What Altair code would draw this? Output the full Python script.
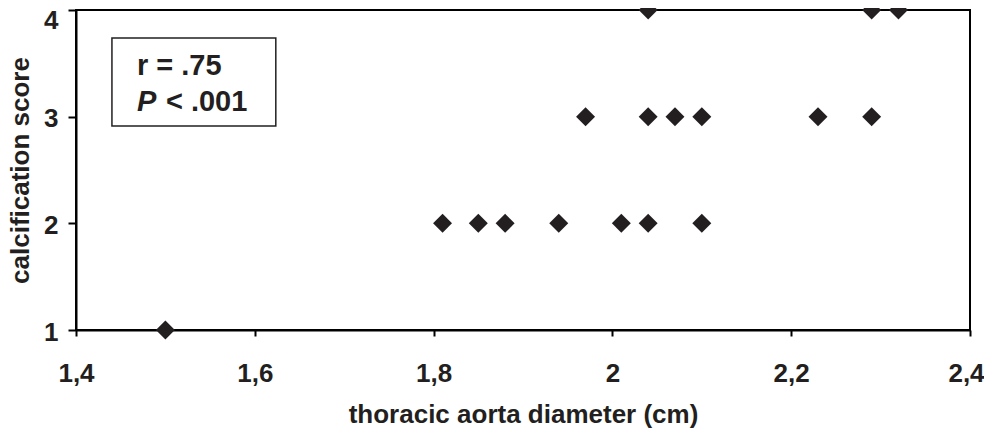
import altair as alt
import pandas as pd

# data
diameter = [1.50, 1.81, 1.85, 1.88, 1.94, 2.01, 2.04, 2.10,
            1.97, 2.04, 2.07, 2.10, 2.23, 2.29,
            2.04, 2.29, 2.32]
score = [1, 2, 2, 2, 2, 2, 2, 2,
         3, 3, 3, 3, 3, 3,
         4, 4, 4]
x_ticks = [1.4, 1.6, 1.8, 2.0, 2.2, 2.4]
y_ticks = [1, 2, 3, 4]

df = pd.DataFrame({"diameter": diameter, "score": score})

FONT = "Liberation Sans"
INK = "#231f20"

xs = alt.Scale(domain=[1.4, 2.4], nice=False, zero=False)
ys = alt.Scale(domain=[1, 4], nice=False, zero=False)

points = alt.Chart(df).mark_point(
    shape="diamond", filled=True, size=360, color=INK, opacity=1
).encode(
    x=alt.X("diameter:Q", scale=xs,
            axis=alt.Axis(values=x_ticks, title="thoracic aorta diameter (cm)",
                          labelExpr="replace(format(datum.value, '~g'), '.', ',')",
                          grid=False, tickSize=6, labelPadding=24,
                          labelOffset=alt.condition("datum.value >= 2.39", alt.value(-4), alt.value(0)),
                          labelFontSize=26, titleFontSize=26,
                          titleBaseline="alphabetic",
                          titleY=92, labelFlush=False)),
    y=alt.Y("score:Q", scale=ys,
            axis=alt.Axis(values=y_ticks, title="calcification score", format="d",
                          grid=False, tickSize=8, labelPadding=10,
                          labelOffset=alt.condition("datum.value == 4", alt.value(10), alt.value(2)),
                          labelFontSize=26, titleFontSize=26,
                          titleBaseline="alphabetic",
                          titleX=-48, labelFlush=False)),
)

# annotation box with statistics (positioned in data units)
box = pd.DataFrame({"x1": [1.4402], "x2": [1.6235], "y1": [3.7375], "y2": [2.9125]})
rect = alt.Chart(box).mark_rect(fill="white", stroke=INK, strokeWidth=1.5).encode(
    x=alt.X("x1:Q", scale=xs), x2="x2:Q",
    y=alt.Y("y1:Q", scale=ys), y2="y2:Q",
)

ann = pd.DataFrame({
    "x": [1.4682, 1.4682, 1.5006],
    "y": [3.3906, 3.053, 3.053],
    "t": ["r = .75", "P", "< .001"],
    "style": ["normal", "italic", "normal"],
})
txt_normal = alt.Chart(ann[ann["style"] == "normal"]).mark_text(
    align="left", baseline="alphabetic", fontSize=29, font=FONT, color=INK,
    fontWeight="bold"
).encode(x=alt.X("x:Q", scale=xs), y=alt.Y("y:Q", scale=ys), text="t:N")
txt_italic = alt.Chart(ann[ann["style"] == "italic"]).mark_text(
    align="left", baseline="alphabetic", fontSize=29, font=FONT, color=INK,
    fontStyle="italic", fontWeight="bold"
).encode(x=alt.X("x:Q", scale=xs), y=alt.Y("y:Q", scale=ys), text="t:N")

chart = alt.layer(rect, points, txt_normal, txt_italic).properties(
    width=894, height=320,
    autosize=alt.AutoSizeParams(type="none"),
    padding={"left": 68, "top": 2, "right": 14, "bottom": 98},
).configure_view(
    stroke="black", strokeWidth=2
).configure_axis(
    domainColor="black", domainWidth=2, tickColor="black", tickWidth=2,
    labelColor=INK, titleColor=INK, labelFont=FONT, titleFont=FONT,
    labelFontWeight="bold", titleFontWeight="bold",
)

chart.save("out.html", embed_options={"renderer": "svg", "actions": False})
